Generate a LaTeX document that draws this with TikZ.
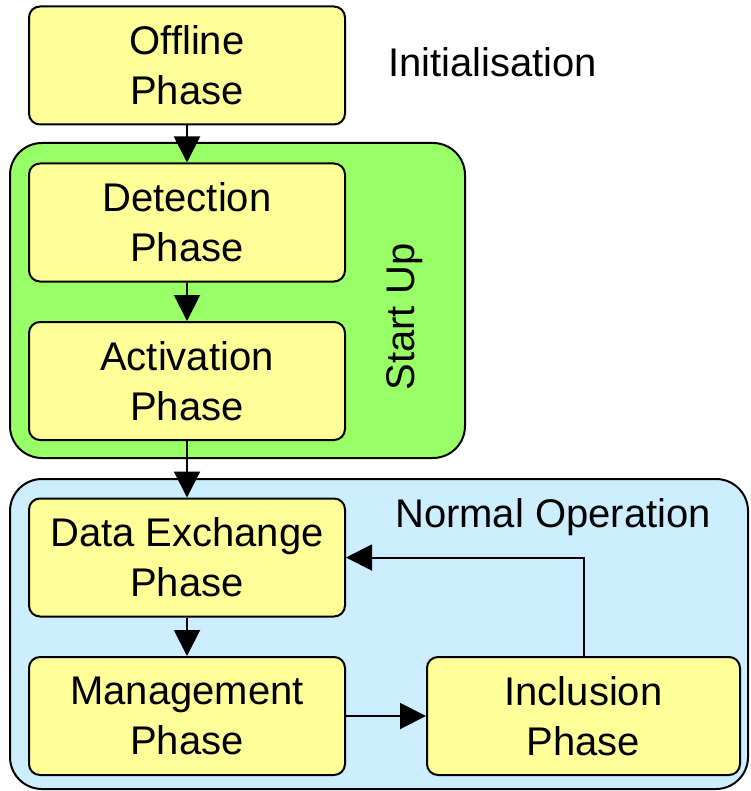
\documentclass[tikz,border=0pt]{standalone}
\usepackage{fontspec}
\setmainfont{Liberation Sans}
\usetikzlibrary{arrows.meta}
\definecolor{phasefill}{HTML}{FFFF99}
\definecolor{startfill}{HTML}{99FF66}
\definecolor{normfill}{HTML}{CCEEFF}
\begin{document}
\begin{tikzpicture}[x=1pt,y=-1pt,
  every node/.style={font=\fontsize{40}{50}\selectfont},
  phase/.style={draw, line width=2pt, fill=phasefill, rounded corners=11pt,
    minimum width=316pt, minimum height=118pt, align=center, inner sep=0pt},
  group/.style={draw, line width=2pt, rounded corners=32pt, inner sep=0pt},
  conn/.style={line width=2pt, -{Triangle[length=26pt,width=26pt]}},
  lbl/.style={inner sep=0pt}]
\useasboundingbox (0,0) rectangle (750,791);
% containers
\node[group, fill=startfill, minimum width=455pt, minimum height=315pt] (su) at (237.5,300.5) {};
\node[group, fill=normfill, minimum width=738pt, minimum height=310pt] (no) at (379,634) {};
% phases
\node[phase] (off) at (187,65.5) {Offline\\Phase};
\node[phase] (det) at (187,222.5) {Detection\\Phase};
\node[phase] (act) at (187,381) {Activation\\Phase};
\node[phase] (dx) at (187,557.5) {Data Exchange\\Phase};
\node[phase] (mg) at (187,716) {Management\\Phase};
\node[phase, minimum width=313pt] (inc) at (583.5,716) {Inclusion\\Phase};
% labels
\node[lbl, anchor=west] (init) at (388,62) {Initialisation};
\node[lbl, rotate=90] (sulbl) at (405,317) {Start Up};
\node[lbl] (nolbl) at (553,517) {Normal Operation};
% connectors
\draw[conn] (off) -- (det);
\draw[conn] (det) -- (act);
\draw[conn] (act) -- (dx);
\draw[conn] (dx) -- (mg);
\draw[conn] (mg) -- (inc);
\draw[conn] (inc.north) |- (dx.east);
\end{tikzpicture}
\end{document}
